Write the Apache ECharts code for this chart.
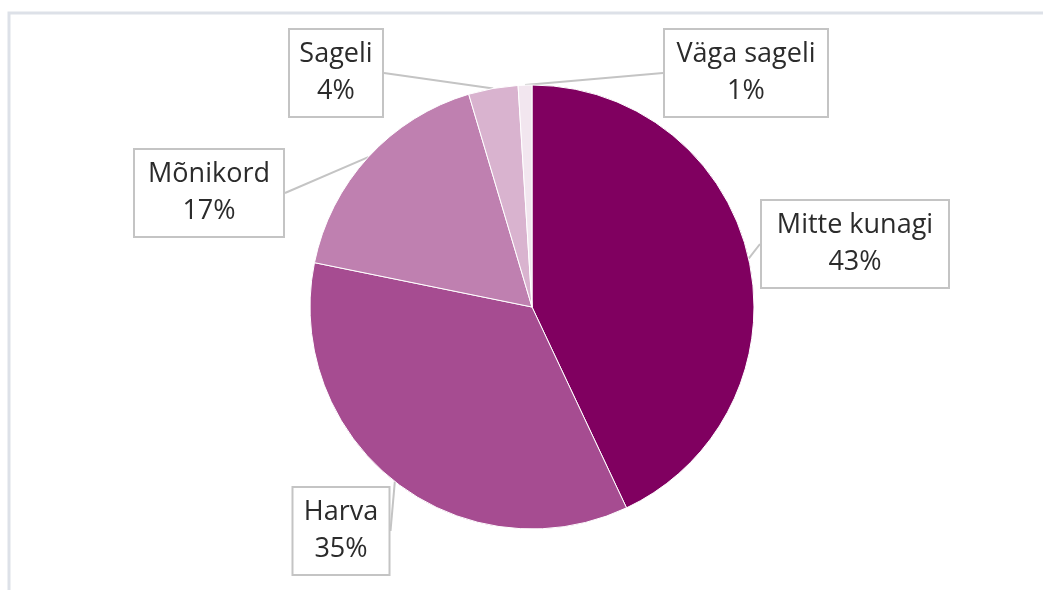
<!DOCTYPE html>
<html>
<head>
<meta charset="utf-8">
<script src="https://cdn.jsdelivr.net/npm/echarts@6/dist/echarts.min.js"></script>
<style>
  html, body { margin: 0; padding: 0; background: #fff; }
  #chart { width: 1043px; height: 590px; }
</style>
</head>
<body>
<div id="chart"></div>
<script>
// data
var categories = ["Mitte kunagi", "Harva", "Mõnikord", "Sageli", "Väga sageli"];
var values = [43.0, 35.2, 17.2, 3.6, 1.0];
var colors = ["#800060", "#A64C91", "#BF80B0", "#D9B3CF", "#F2E6EF"];

// callout boxes: center x, center y, box width (px)
var boxes = [
  [855, 244, 186],
  [341, 531, 95],
  [209, 193, 148],
  [336, 73, 92],
  [746, 73, 162]
];

var chart = echarts.init(document.getElementById("chart"));

var pieData = categories.map(function (name, i) {
  return {
    name: name,
    value: values[i],
    itemStyle: { color: colors[i] },
    label: { width: boxes[i][2] }
  };
});

chart.setOption({
  animation: false,
  graphic: [
    {
      type: "rect",
      shape: { x: 9, y: 13, width: 1100, height: 650 },
      style: { fill: "none", stroke: "#DDE1E8", lineWidth: 3 },
      silent: true
    }
  ],
  series: [
    {
      type: "pie",
      center: [532, 307],
      radius: 222,
      startAngle: 90,
      clockwise: true,
      avoidLabelOverlap: false,
      percentPrecision: 0,
      itemStyle: { borderColor: "#fff", borderWidth: 1 },
      label: {
        show: true,
        formatter: "{b}\n{d}%",
        fontFamily: "Open Sans",
        fontSize: 27,
        lineHeight: 37,
        color: "#2B2B2B",
        backgroundColor: "#fff",
        borderColor: "#C4C4C4",
        borderWidth: 2,
        padding: [6, 0, 6, 0],
        align: "center",
        overflow: "none"
      },
      labelLine: {
        show: true,
        length: 10,
        length2: 0,
        lineStyle: { color: "#C4C4C4", width: 2 }
      },
      labelLayout: function (params) {
        var b = boxes[params.dataIndex];
        return {
          x: b[0],
          y: b[1],
          align: "center",
          verticalAlign: "middle"
        };
      },
      data: pieData
    }
  ]
});
</script>
</body>
</html>
